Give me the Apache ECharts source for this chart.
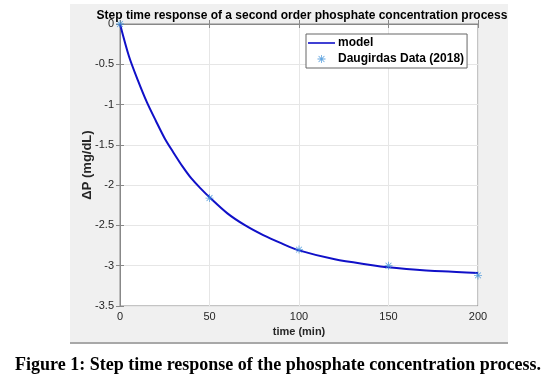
<!DOCTYPE html>
<html>
<head>
<meta charset="utf-8">
<script src="https://cdn.jsdelivr.net/npm/echarts@6/dist/echarts.min.js"></script>
<style>
  html, body { margin: 0; padding: 0; background: #fff; }
  #chart { width: 547px; height: 377px; }
</style>
</head>
<body>
<div id="chart"></div>
<script>
// model curve
var modelTime = [0, 5, 10, 15, 20, 25, 30, 35, 40, 45, 50, 60, 70, 80, 90, 100, 120, 140, 150, 160, 180, 200];
var modelDP = [0, -0.40, -0.70, -0.97, -1.20, -1.42, -1.60, -1.77, -1.92, -2.04, -2.15, -2.35, -2.50, -2.62, -2.72, -2.81, -2.92, -2.99, -3.02, -3.04, -3.07, -3.09];

// measured points
var dataTime = [0, 50, 100, 150, 200];
var dataDP = [0, -2.16, -2.80, -3.0, -3.12];

var modelPts = [];
for (var i = 0; i < modelTime.length; i++) {
    modelPts.push([modelTime[i], modelDP[i]]);
}
var dataPts = [];
for (var i = 0; i < dataTime.length; i++) {
    dataPts.push([dataTime[i], dataDP[i]]);
}

// asterisk marker
var star = 'path://M4.5,0L5.5,0L5.5,10L4.5,10Z M0,4.5L10,4.5L10,5.5L0,5.5Z M1,1.7L1.7,1L9,8.3L8.3,9Z M8.3,1L9,1.7L1.7,9L1,8.3Z';

var chart = echarts.init(document.getElementById('chart'));

var font = 'Arial, "Liberation Sans", sans-serif';
var labelColor = '#262626';

var option = {
    backgroundColor: '#fff',
    animation: false,
    graphic: [
        {
            type: 'rect',
            z: -10,
            shape: { x: 70, y: 4, width: 438, height: 338 },
            style: { fill: '#f0f0f0' }
        },
        {
            type: 'rect',
            z: -10,
            shape: { x: 70, y: 342, width: 438, height: 2 },
            style: { fill: '#a8a8a8' }
        }
    ],
    title: [
        {
            text: 'Step time response of a second order phosphate concentration process',
            left: 297,
            textAlign: 'center',
            top: 5,
            textStyle: { fontFamily: font, fontSize: 12, fontWeight: 'bold', color: '#000' }
        },
        {
            text: 'Figure 1: Step time response of the phosphate concentration process.',
            left: 273,
            textAlign: 'center',
            top: 351,
            textStyle: { fontFamily: '"Liberation Serif", "Times New Roman", serif', fontSize: 18, fontWeight: 'bold', color: '#000' }
        }
    ],
    legend: {
        orient: 'vertical',
        left: 306,
        top: 34,
        backgroundColor: '#fff',
        borderColor: '#666',
        borderWidth: 1,
        padding: [3, 3, 3, 2],
        itemGap: 4,
        itemWidth: 27,
        itemHeight: 8,
        textStyle: { fontFamily: font, fontSize: 12, fontWeight: 'bold', color: '#000', padding: [0, 0, 0, -2] },
        data: [
            { name: 'model', icon: 'path://M0,4.2L27,4.2L27,5.8L0,5.8Z' },
            { name: 'Daugirdas Data (2018)', icon: star }
        ]
    },
    grid: {
        left: 120,
        top: 24,
        right: 69,
        bottom: 71,
        show: true,
        backgroundColor: '#fff',
        borderColor: '#888',
        borderWidth: 1
    },
    xAxis: [
        {
            type: 'value',
            min: 0,
            max: 200,
            interval: 50,
            name: 'time (min)',
            nameLocation: 'middle',
            nameGap: 19,
            nameTextStyle: { fontFamily: font, fontSize: 11, fontWeight: 'bold', color: labelColor },
            axisLine: { lineStyle: { color: '#888' } },
            axisTick: { inside: true, length: 4, lineStyle: { color: '#888' } },
            axisLabel: { margin: 5, fontFamily: font, fontSize: 11, color: labelColor },
            splitLine: { show: true, lineStyle: { color: '#e6e6e6' } }
        },
        {
            type: 'value',
            position: 'top',
            min: 0,
            max: 200,
            interval: 50,
            axisLine: { show: false },
            axisTick: { inside: true, length: 4, lineStyle: { color: '#888' } },
            axisLabel: { show: false },
            splitLine: { show: false }
        }
    ],
    yAxis: [
        {
            type: 'value',
            min: -3.5,
            max: 0,
            interval: 0.5,
            name: '\u0394P (mg/dL)',
            nameLocation: 'middle',
            nameGap: 26,
            nameMoveOverlap: false,
            nameTextStyle: { fontFamily: font, fontSize: 13, fontWeight: 'bold', color: labelColor },
            axisLine: { lineStyle: { color: '#888' } },
            axisTick: { inside: true, length: 4, lineStyle: { color: '#888' } },
            axisLabel: { margin: 6, fontFamily: font, fontSize: 11, color: labelColor },
            splitLine: { show: true, lineStyle: { color: '#e6e6e6' } }
        },
        {
            type: 'value',
            position: 'right',
            min: -3.5,
            max: 0,
            interval: 0.5,
            axisLine: { show: false },
            axisTick: { inside: true, length: 4, lineStyle: { color: '#888' } },
            axisLabel: { show: false },
            splitLine: { show: false }
        }
    ],
    series: [
        {
            name: 'model',
            type: 'line',
            data: modelPts,
            smooth: 0.3,
            showSymbol: false,
            symbol: 'none',
            lineStyle: { color: '#1010c8', width: 2 },
            itemStyle: { color: '#1010c8' },
            z: 2
        },
        {
            name: 'Daugirdas Data (2018)',
            type: 'scatter',
            data: dataPts,
            symbol: star,
            symbolSize: 8,
            itemStyle: { color: '#3a8fd8' },
            z: 3
        }
    ]
};

chart.setOption(option);
</script>
</body>
</html>
